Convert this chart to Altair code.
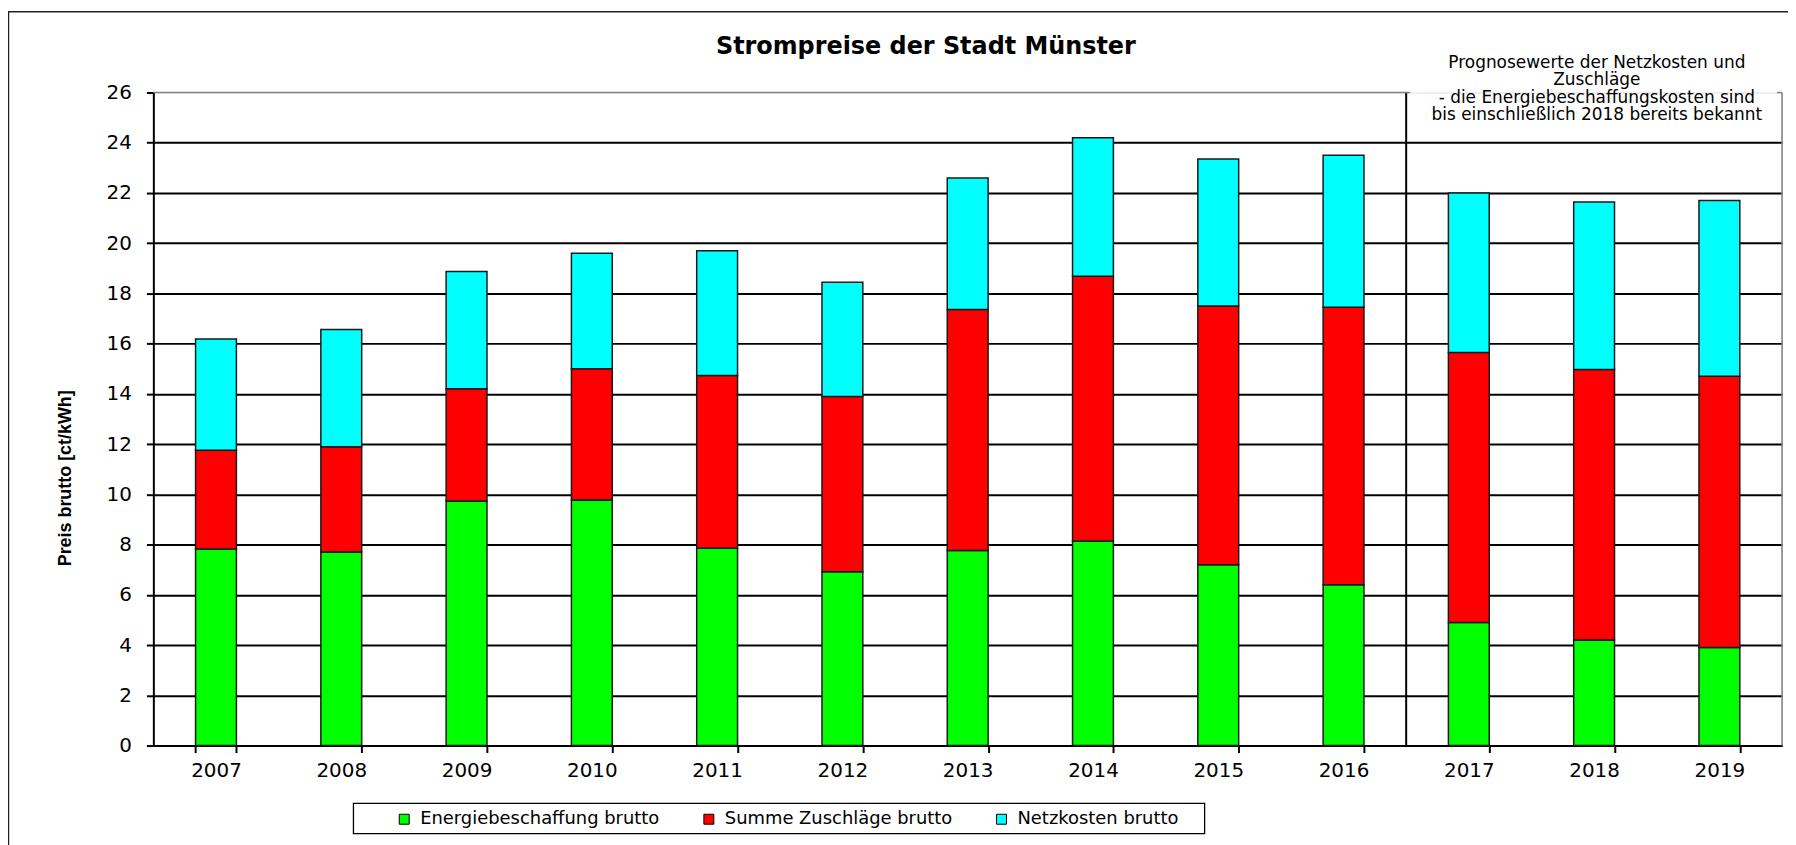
import altair as alt
import pandas as pd

# ---------------- data ----------------
years = ["2007", "2008", "2009", "2010", "2011", "2012", "2013",
         "2014", "2015", "2016", "2017", "2018", "2019"]
energie = [7.83, 7.71, 9.74, 9.78, 7.86, 6.92, 7.77, 8.14, 7.20, 6.40, 4.90, 4.20, 3.90]
zuschlaege = [3.93, 4.19, 4.47, 5.22, 6.87, 6.98, 9.59, 10.54, 10.30, 11.05, 10.75, 10.77, 10.80]
netz = [4.43, 4.66, 4.66, 4.60, 4.97, 4.55, 5.24, 5.52, 5.85, 6.05, 6.35, 6.67, 7.00]

series_names = ["Energiebeschaffung brutto", "Summe Zuschläge brutto", "Netzkosten brutto"]
series_colors = ["#00FF00", "#FF0000", "#00FFFF"]
y_ticks = [0, 2, 4, 6, 8, 10, 12, 14, 16, 18, 20, 22, 24, 26]

title_text = "Strompreise der Stadt Münster"
y_title = "Preis brutto  [ct/kWh]"
annotation_lines = [
    "Prognosewerte der Netzkosten und",
    "Zuschläge",
    "- die Energiebeschaffungskosten sind",
    "bis einschließlich 2018 bereits bekannt",
]

rows = []
for i, y in enumerate(years):
    for k, (name, vals) in enumerate(zip(series_names, [energie, zuschlaege, netz])):
        rows.append({"Jahr": y, "Komponente": name, "Wert": vals[i], "ord": k})
df = pd.DataFrame(rows)

# ---------------- layout ----------------
W, H = 1636, 656
PAD = {"left": 146, "top": 83, "right": 6, "bottom": 98}
SEP_X = W * 10 / 13
one = alt.Data(values=[{"k": 1}])

bars = alt.Chart(df).mark_bar(stroke="#1a1a1a", strokeWidth=1.5).encode(
    x=alt.X(
        "Jahr:N", sort=years,
        scale=alt.Scale(paddingInner=0.674, paddingOuter=0.337),
        axis=alt.Axis(
            title=None, labelAngle=0, tickBand="extent", tickSize=7, tickWidth=2,
            tickColor="black", domainColor="black", domainWidth=2,
            labelFont="DejaVu Sans", labelFontSize=20, labelColor="black",
            labelPadding=8, grid=False,
        ),
    ),
    y=alt.Y(
        "Wert:Q", stack="zero",
        scale=alt.Scale(domain=[0, 26], nice=False),
        axis=alt.Axis(
            values=y_ticks, title=y_title,
            titleFont="Liberation Sans", titleFontSize=18, titleFontWeight="bold",
            titleColor="black", titleX=-88, titleY=387, titleAngle=270,
            titleBaseline="middle", titleAlign="center",
            grid=True, gridWidth=2,
            gridColor={"condition": {"test": "datum.value === 26", "value": "transparent"},
                       "value": "black"},
            domainColor="black", domainWidth=2,
            tickSize=7, tickWidth=2, tickColor="black",
            labelFont="DejaVu Sans", labelFontSize=20, labelColor="black",
            labelPadding=15,
        ),
    ),
    color=alt.Color(
        "Komponente:N",
        scale=alt.Scale(domain=series_names, range=series_colors),
        legend=alt.Legend(
            orient="none", legendX=243, legendY=721, direction="horizontal",
            columns=3, title=None, symbolType="square", symbolSize=100,
            symbolStrokeColor="black", symbolStrokeWidth=1, symbolOpacity=1,
            labelFont="DejaVu Sans", labelFontSize=18, labelColor="black",
            labelOffset=7, labelLimit=0, columnPadding=40, padding=0,
        ),
    ),
    order=alt.Order("ord:Q", sort="ascending"),
)

outer = alt.Chart(one).mark_rect(filled=False, stroke="#222222", strokeWidth=1.5).encode(
    x=alt.value(-145.5), x2=alt.value(W + 60), y=alt.value(-81), y2=alt.value(H + 300)
)
sep = alt.Chart(one).mark_rule(color="black", strokeWidth=2).encode(
    x=alt.value(SEP_X), y=alt.value(0), y2=alt.value(H)
)
top_left = alt.Chart(one).mark_rule(color="#808080", strokeWidth=1.5).encode(
    x=alt.value(0), x2=alt.value(SEP_X + 4), y=alt.value(0)
)
top_right = alt.Chart(one).mark_rule(color="#808080", strokeWidth=1.5).encode(
    x=alt.value(W - 5), x2=alt.value(W), y=alt.value(0)
)
right = alt.Chart(one).mark_rule(color="#808080", strokeWidth=1.5).encode(
    x=alt.value(W), y=alt.value(0), y2=alt.value(H)
)
legend_box = alt.Chart(one).mark_rect(filled=False, stroke="black", strokeWidth=1.3).encode(
    x=alt.value(201), x2=alt.value(1056), y=alt.value(714), y2=alt.value(744.5)
)
title = alt.Chart(one).mark_text(
    text=title_text, font="DejaVu Sans", fontWeight="bold", fontSize=24,
    align="center", baseline="alphabetic", color="black",
).encode(x=alt.value(776), y=alt.value(-39))
annot = alt.Chart(one).mark_text(
    text=annotation_lines, font="DejaVu Sans", fontSize=17, lineHeight=17.3,
    align="center", baseline="top", color="black",
).encode(x=alt.value(1450), y=alt.value(-37.5))

chart = alt.layer(
    outer, bars, sep, top_left, top_right, right, legend_box, title, annot
).properties(
    width=W, height=H,
    autosize=alt.AutoSizeParams(type="none"),
    padding=PAD,
).configure_view(stroke=None).configure(background="white")

chart.save("out.html", embed_options={"renderer": "svg", "actions": False})
